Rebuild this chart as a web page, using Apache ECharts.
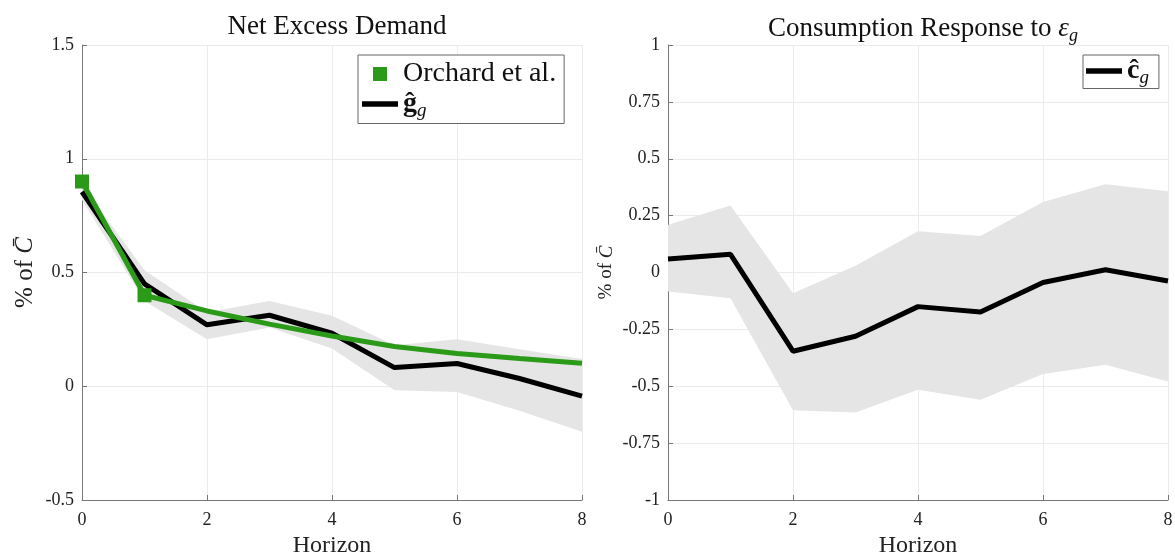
<!DOCTYPE html>
<html><head><meta charset="utf-8">
<script src="https://cdn.jsdelivr.net/npm/echarts@6/dist/echarts.min.js"></script>
<style>html,body{margin:0;padding:0;background:#fff}#c{width:1175px;height:552px}</style>
</head><body><div id="c"></div>
<script>
// ---- data ----
const horizon = [0,1,2,3,4,5,6,7,8];
// Left panel: Net Excess Demand
const gHat      = [0.855,0.45,0.27,0.312,0.233,0.082,0.100,0.034,-0.043];
const gUpper    = [0.885,0.51,0.325,0.375,0.31,0.18,0.207,0.163,0.12];
const gLower    = [0.82,0.375,0.207,0.258,0.166,-0.018,-0.025,-0.108,-0.20];
const orchardX  = [0,1];
const orchardY  = [0.9,0.4];
const orchardLine = [0.9,0.4,0.331,0.273,0.221,0.175,0.144,0.122,0.101];
// Right panel: Consumption Response
const cHat      = [0.059,0.08,-0.346,-0.28,-0.15,-0.174,-0.044,0.012,-0.037];
const cUpper    = [0.21,0.294,-0.091,0.03,0.181,0.16,0.31,0.388,0.357];
const cLower    = [-0.084,-0.113,-0.606,-0.615,-0.515,-0.559,-0.446,-0.406,-0.479];
const leftTicks = {min:-0.5, max:1.5, interval:0.5};
const rightTicks = {min:-1, max:1, interval:0.25};

const FONT = '"Liberation Serif", "DejaVu Serif", serif';
const GREEN = '#2a9a18';
const BAND = '#e5e5e5';
const pairs = (xs, ys) => xs.map((x,i)=>[x, ys[i]]);

function xAxis(gi){
  return {gridIndex:gi, type:'value', min:0, max:8, interval:2,
    name:'Horizon', nameLocation:'middle', nameGap:33,
    nameTextStyle:{fontFamily:FONT, fontSize:24, color:'#222'},
    axisLine:{show:true, onZero:false, lineStyle:{color:'#777', width:1}},
    axisTick:{show:true, inside:true, length:5, lineStyle:{color:'#777'}},
    axisLabel:{fontFamily:FONT, fontSize:18, color:'#222', margin:11},
    splitLine:{show:true, lineStyle:{color:'#ebebeb', width:1}}};
}
function yAxis(gi, t, gap, nameSize){
  return {gridIndex:gi, type:'value', min:t.min, max:t.max, interval:t.interval,
    name:'{a|% of }{c|C̄}', nameLocation:'middle', nameGap:gap,
    nameTextStyle:{rich:{a:{fontFamily:FONT, fontSize:nameSize, color:'#222'},
                         c:{fontFamily:FONT, fontSize:nameSize, fontStyle:'italic', color:'#222'}}},
    axisLine:{show:true, onZero:false, lineStyle:{color:'#777', width:1}},
    axisTick:{show:true, inside:true, length:5, lineStyle:{color:'#777'}},
    axisLabel:{fontFamily:FONT, fontSize:18, color:'#222', margin:8},
    splitLine:{show:true, lineStyle:{color:'#ebebeb', width:1}}};
}
function band(gi, upper, lower){
  return {type:'custom', xAxisIndex:gi, yAxisIndex:gi, silent:true, z:1,
    data:[[0]],
    renderItem:function(params, api){
      const pts = [];
      horizon.forEach((x,i)=>pts.push(api.coord([x, upper[i]])));
      for(let i=horizon.length-1;i>=0;i--) pts.push(api.coord([horizon[i], lower[i]]));
      return {type:'polygon', shape:{points:pts}, style:{fill:BAND, stroke:null}};
    }};
}

const chart = echarts.init(document.getElementById('c'), null, {renderer:'canvas'});
chart.setOption({
  animation:false,
  backgroundColor:'#fff',
  title:[
    {text:'Net Excess Demand', left:332, top:8, textAlign:'center',
     textStyle:{fontFamily:FONT, fontSize:27, fontWeight:'normal', color:'#111'}},
    {text:'{a|Consumption Response to }{e|ε}{s|g}', left:918, top:8, textAlign:'center',
     textStyle:{fontWeight:'normal', rich:{a:{fontFamily:FONT, fontSize:27, fontWeight:'normal', color:'#111'},
                      e:{fontFamily:FONT, fontSize:27, fontStyle:'italic', fontWeight:'normal', color:'#111'},
                      s:{fontFamily:FONT, fontSize:18, fontStyle:'italic', fontWeight:'normal', color:'#111', padding:[14,0,0,0]}}}}
  ],
  grid:[
    {left:82, top:45, width:500, height:455, outerBoundsMode:'none', containLabel:false},
    {left:668, top:45, width:500, height:455, outerBoundsMode:'none', containLabel:false}
  ],
  xAxis:[xAxis(0), xAxis(1)],
  yAxis:[yAxis(0, leftTicks, 44, 25), yAxis(1, rightTicks, 52, 19)],
  legend:[
    {orient:'vertical', left:358, top:55, padding:[5,8,3,4], itemGap:2,
     itemWidth:36, itemHeight:14, borderColor:'#666', borderWidth:1, backgroundColor:'#fff',
     selectedMode:false,
     data:[{name:'Orchard et al.', icon:'path://M0,0H10V10H0Z', itemStyle:{color:GREEN, opacity:1}},
           {name:'gHat', icon:'path://M0,0H40V6H0Z', itemStyle:{color:'#000'}}],
     formatter:function(n){ return n==='gHat' ? '{b|ĝ}{s|g}' : '{t|'+n+'}'; },
     textStyle:{rich:{t:{fontFamily:FONT, fontSize:28, color:'#111', height:32},
                      b:{fontFamily:FONT, fontSize:28, fontWeight:'bold', color:'#111', height:32},
                      s:{fontFamily:FONT, fontSize:19, fontStyle:'italic', color:'#111', padding:[14,0,0,0]}}}},
    {orient:'vertical', left:1083, top:55, padding:[2,10,1,3], itemGap:2,
     itemWidth:36, itemHeight:14, borderColor:'#666', borderWidth:1, backgroundColor:'#fff',
     selectedMode:false,
     data:[{name:'cHat', icon:'path://M0,0H40V6H0Z', itemStyle:{color:'#000'}}],
     formatter:function(){ return '{b|ĉ}{s|g}'; },
     textStyle:{rich:{b:{fontFamily:FONT, fontSize:28, fontWeight:'bold', color:'#111', height:32},
                      s:{fontFamily:FONT, fontSize:19, fontStyle:'italic', color:'#111', padding:[14,0,0,0]}}}}
  ],
  series:[
    band(0, gUpper, gLower),
    {name:'gHat', type:'line', xAxisIndex:0, yAxisIndex:0, data:pairs(horizon, gHat),
     symbol:'none', lineStyle:{color:'#000', width:5}, itemStyle:{color:'#000'}, z:3},
    {name:'orchardLine', type:'line', xAxisIndex:0, yAxisIndex:0, data:pairs(horizon, orchardLine),
     symbol:'none', smooth:false, lineStyle:{color:GREEN, width:5}, z:4},
    {name:'Orchard et al.', type:'scatter', xAxisIndex:0, yAxisIndex:0, data:pairs(orchardX, orchardY),
     symbol:'rect', symbolSize:14, itemStyle:{color:GREEN, opacity:1}, z:5},
    band(1, cUpper, cLower),
    {name:'cHat', type:'line', xAxisIndex:1, yAxisIndex:1, data:pairs(horizon, cHat),
     symbol:'none', lineStyle:{color:'#000', width:5}, itemStyle:{color:'#000'}, z:3}
  ]
});
</script></body></html>
